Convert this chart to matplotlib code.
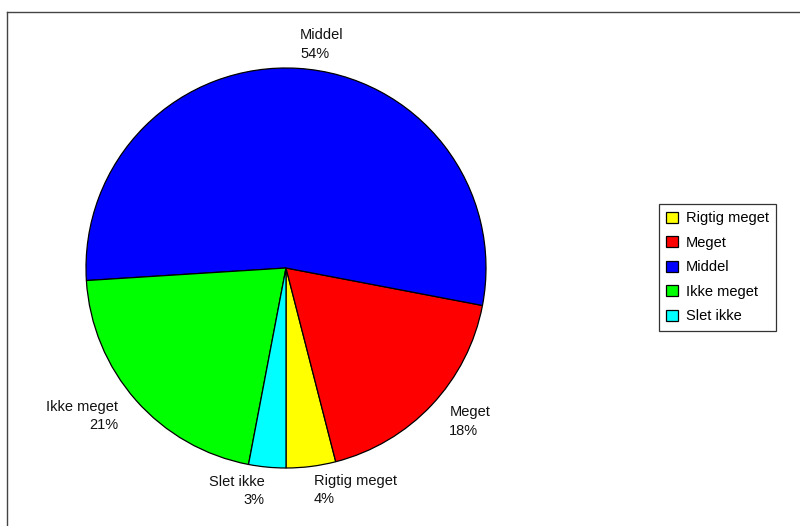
import matplotlib
matplotlib.use("Agg")
import numpy as np
import matplotlib.pyplot as plt
from matplotlib.lines import Line2D

categories = ["Rigtig meget", "Meget", "Middel", "Ikke meget", "Slet ikke"]
values = [4, 18, 54, 21, 3]
colors = ["#FFFF00", "#FF0000", "#0000FF", "#00FF00", "#00FFFF"]

plt.rcParams['font.family'] = ['Liberation Sans', 'DejaVu Sans']

W, H = 800, 526
FS = 10.5
fig = plt.figure(figsize=(W / 100, H / 100), dpi=100)
fig.patch.set_facecolor("white")
ax = fig.add_axes([0, 0, 1, 1])

labels = [f"{c}\n{v}%" for c, v in zip(categories, values)]
wedges, texts = ax.pie(values, colors=colors, labels=labels, startangle=-90,
                       counterclock=True, center=(286, H - 268), radius=200,
                       labeldistance=1.12, frame=True,
                       wedgeprops=dict(edgecolor="black", linewidth=0.9),
                       textprops=dict(fontsize=FS, color="#111111", linespacing=1.4))
for w, t in zip(wedges, texts):
    mid = np.deg2rad((w.theta1 + w.theta2) / 2)
    t.set_horizontalalignment("left" if np.cos(mid) >= 0 else "right")

ax.set_xlim(0, W)
ax.set_ylim(0, H)
ax.set_aspect("equal")
ax.axis("off")

leg = fig.legend(wedges, categories, loc="upper left",
                 bbox_to_anchor=(659 / W, 1 - 204 / H), fontsize=FS,
                 frameon=True, fancybox=False, shadow=False,
                 handlelength=0.8, handleheight=0.8, handletextpad=0.55,
                 labelspacing=0.72, borderpad=0.5, borderaxespad=0)
leg.get_frame().set_edgecolor("black")
leg.get_frame().set_linewidth(0.9)

# partial outer frame (top and left)
fig.add_artist(Line2D([7 / W, 1], [1 - 12 / H, 1 - 12 / H], color="#444444", lw=1))
fig.add_artist(Line2D([7 / W, 7 / W], [0, 1 - 12 / H], color="#444444", lw=1))

fig.savefig("out.png", dpi=100)
